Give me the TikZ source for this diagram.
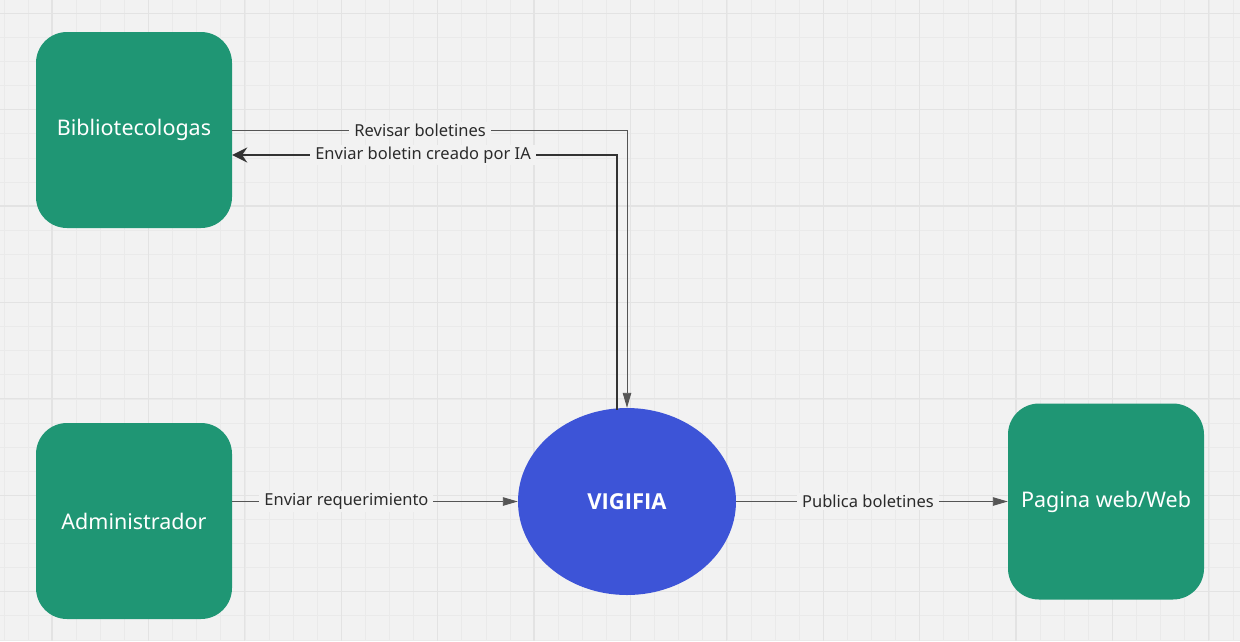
\documentclass[tikz,border=0pt]{standalone}
\usepackage{fontspec}
\setmainfont{Noto Sans}
\newfontfamily\vigfont{Open Sans}
\usetikzlibrary{shapes.geometric,arrows.meta,calc}
\definecolor{bgc}{HTML}{F2F2F2}
\definecolor{gridminor}{HTML}{EAEAEA}
\definecolor{gridmajor}{HTML}{E3E3E3}
\definecolor{boxgreen}{HTML}{1F9674}
\definecolor{ellblue}{HTML}{3D54D7}
\definecolor{linegray}{HTML}{555555}
\definecolor{linedark}{HTML}{333333}
\definecolor{txtdark}{HTML}{2B2B2B}
\tikzset{
  actor/.style={fill=boxgreen, rounded corners=31pt, minimum width=196pt, minimum height=196pt, inner sep=0pt, text=white, font=\fontsize{21.5}{25}\selectfont},
  process/.style={ellipse, fill=ellblue, minimum width=218pt, minimum height=187pt, inner sep=0pt, text=white, font=\vigfont\fontsize{22}{26}\selectfont\bfseries},
  flow/.style={draw=linegray, line width=0.9pt, -{Triangle[length=15pt,width=8.5pt]}},
  flowthick/.style={draw=linedark, line width=1.9pt, -{Stealth[length=15pt,width=15pt,inset=5pt]}},
  lbl/.style={fill=bgc, inner xsep=5pt, inner ysep=2pt, text=txtdark, font=\fontsize{16.5}{19}\selectfont}
}
\begin{document}
\begin{tikzpicture}[x=1pt,y=-1pt]
\useasboundingbox (0,0) rectangle (1240,641);
\fill[bgc] (0,0) rectangle (1240,641);
% grid
\foreach \k in {-2,...,50} {
  \draw[gridminor, line width=0.6pt] ({52+24.1*\k},0) -- ({52+24.1*\k},641);
}
\foreach \k in {-1,...,26} {
  \draw[gridminor, line width=0.6pt] (0,{13.2+24.1*\k}) -- (1240,{13.2+24.1*\k});
}
\foreach \k in {0,...,12} {
  \draw[gridmajor, line width=1.1pt] ({52+96.4*\k},0) -- ({52+96.4*\k},641);
}
\foreach \k in {0,...,6} {
  \draw[gridmajor, line width=1.1pt] (0,{13.2+96.4*\k}) -- (1240,{13.2+96.4*\k});
}
% nodes
\node[actor] (bib) at (134,130) {Bibliotecologas};
\node[actor] (adm) at (134,521) {Administrador};
\node[actor] (web) at (1106,501.5) {Pagina web/Web};
\node[process] (vig) at (627,501.5) {VIGIFIA};
% connectors
\coordinate (vtopA) at ([xshift=-10pt]vig.north);
\coordinate (bibin) at ([yshift=-25pt]bib.east);
\draw[flow] (bib.east) -| (vig.north)
  node[lbl, pos=0.238] {Revisar boletines};
\draw[flowthick] ([yshift=-2pt]vtopA) |- (bibin)
  node[lbl, pos=0.752] {Enviar boletin creado por IA};
\coordinate (admout) at ([yshift=19.5pt]adm.east);
\draw[flow] (admout) -- (vig.west)
  node[lbl, pos=0.4] {Enviar requerimiento};
\draw[flow] (vig.east) -- (web.west)
  node[lbl, pos=0.485] {Publica boletines};
\end{tikzpicture}
\end{document}
